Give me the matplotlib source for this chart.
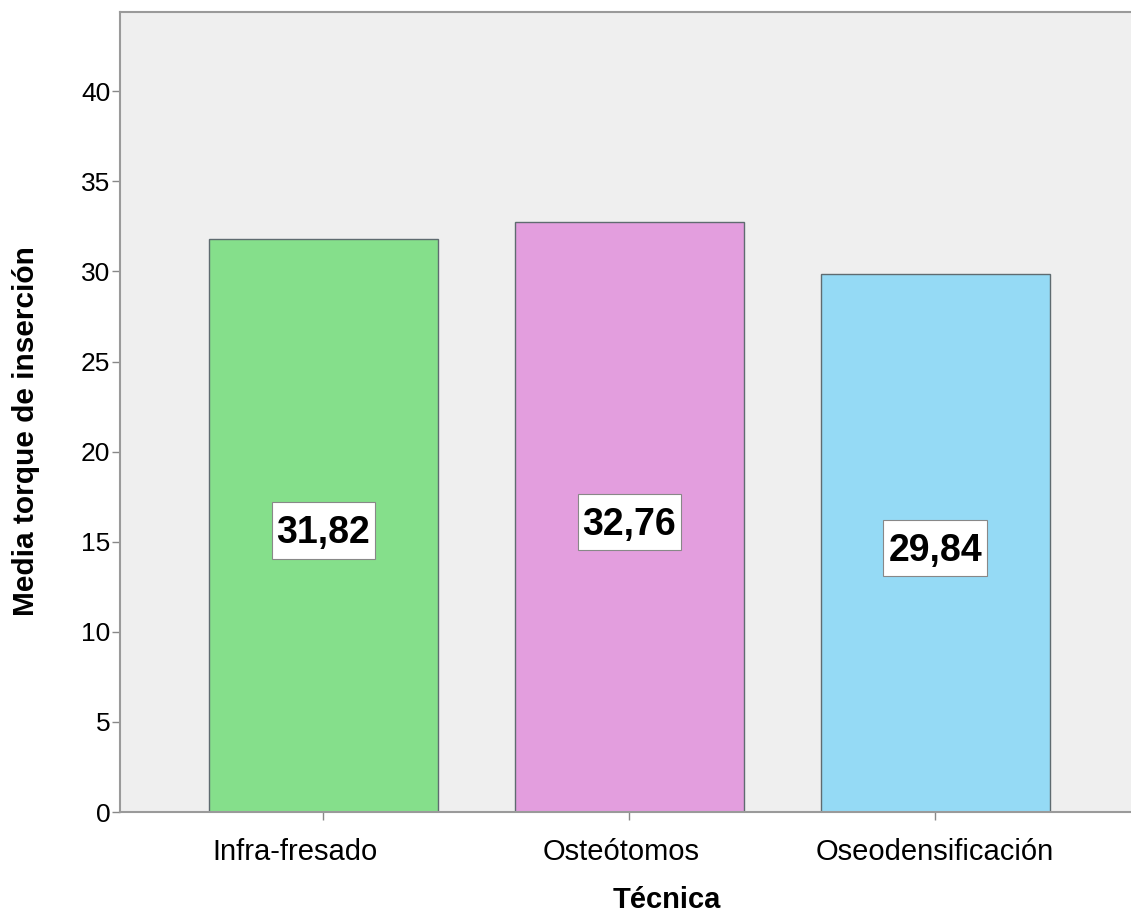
import matplotlib
matplotlib.use("Agg")
import matplotlib.pyplot as plt
from matplotlib.path import Path
from matplotlib.transforms import ScaledTranslation

plt.rcParams['font.family'] = ['Liberation Sans', 'DejaVu Sans']

tecnicas = ['Infra-fresado', 'Osteótomos', 'Oseodensificación']
medias = [31.82, 32.76, 29.84]
etiquetas = ['31,82', '32,76', '29,84']
colores = ['#85df8b', '#e39ede', '#95daf5']


# caja de etiqueta: mas alta que ancha, como en SPSS
def caja_alta(x0, y0, width, height, mutation_size):
    px = 0.13 * mutation_size
    pb = 0.19 * mutation_size
    pt = 0.35 * mutation_size
    x1, y1 = x0 - px, y0 - pb
    x2, y2 = x0 + width + px, y0 + height + pt
    return Path([(x1, y1), (x2, y1), (x2, y2), (x1, y2), (x1, y1)], closed=True)


fig = plt.figure(figsize=(11.31, 9.16), dpi=100)
ax = fig.add_axes([0.1061, 0.1135, 0.8939, 0.8734])
ax.set_facecolor('#efefef')

x = range(len(tecnicas))
ax.bar(x, medias, width=0.748, color=colores, edgecolor='#5f6b70', linewidth=1.0, zorder=2)

for xi, m, lab in zip(x, medias, etiquetas):
    ax.text(xi, m / 2 - 0.45, lab, ha='center', va='center', fontsize=27, fontweight='bold',
            bbox=dict(boxstyle=caja_alta, facecolor='white', edgecolor='#888888', linewidth=0.8),
            zorder=3)

ax.set_xlim(-0.665, 2.64)
ax.set_ylim(0, 44.4)
ax.set_yticks(range(0, 45, 5))
ax.set_xticks(list(x))
ax.set_xticklabels(tecnicas)
ax.tick_params(axis='both', color='#888888', length=6, width=1)
ax.tick_params(axis='y', labelsize=19, pad=1)
ax.tick_params(axis='x', labelsize=21, pad=12.5)

# desplazamiento horizontal de las etiquetas de categoria (px)
desplaz = [-28, -8, 0]
for lbl, dx in zip(ax.get_xticklabels(), desplaz):
    lbl.set_transform(lbl.get_transform() + ScaledTranslation(dx / 100, 0, fig.dpi_scale_trans))

for s in ['left', 'bottom', 'top']:
    ax.spines[s].set_color('#9a9a9a')
    ax.spines[s].set_linewidth(1.5)
ax.spines['right'].set_visible(False)

ax.set_xlabel('Técnica', fontsize=21, fontweight='bold')
ax.xaxis.set_label_coords(0.541, -0.12)
ax.xaxis.label.set_verticalalignment('baseline')

ax.set_ylabel('Media torque de inserción', fontsize=21.5, fontweight='bold')
ax.yaxis.set_label_coords(-0.093, 0.476)
ax.yaxis.label.set_verticalalignment('center')

fig.savefig('out.png', dpi=100)
